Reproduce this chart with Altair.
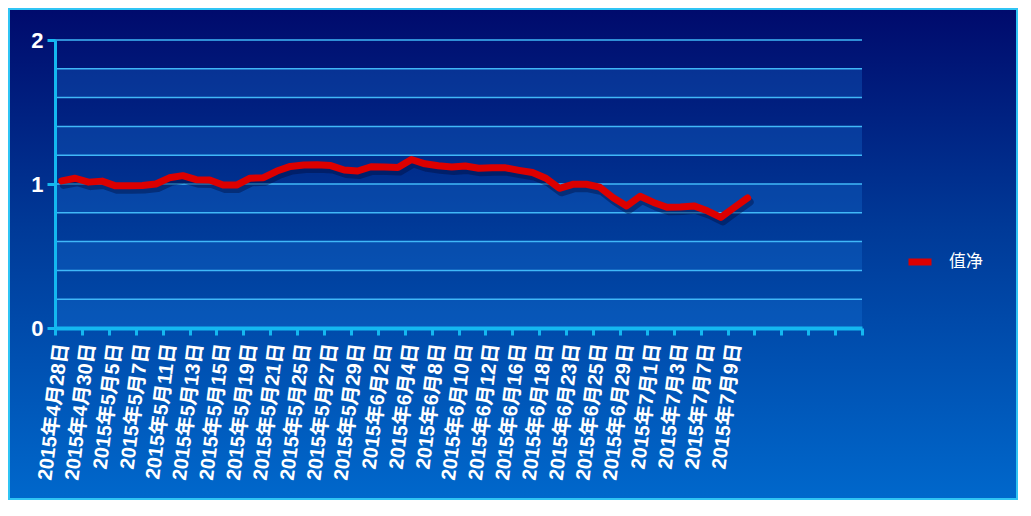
import json
import pandas as pd
import altair as alt

# ---- data ----
dates = ["2015年4月28日", "2015年4月29日", "2015年4月30日", "2015年5月4日", "2015年5月5日",
         "2015年5月6日", "2015年5月7日", "2015年5月8日", "2015年5月11日", "2015年5月12日",
         "2015年5月13日", "2015年5月14日", "2015年5月15日", "2015年5月18日", "2015年5月19日",
         "2015年5月20日", "2015年5月21日", "2015年5月22日", "2015年5月25日", "2015年5月26日",
         "2015年5月27日", "2015年5月28日", "2015年5月29日", "2015年6月1日", "2015年6月2日",
         "2015年6月3日", "2015年6月4日", "2015年6月5日", "2015年6月8日", "2015年6月9日",
         "2015年6月10日", "2015年6月11日", "2015年6月12日", "2015年6月15日", "2015年6月16日",
         "2015年6月17日", "2015年6月18日", "2015年6月19日", "2015年6月23日", "2015年6月24日",
         "2015年6月25日", "2015年6月26日", "2015年6月29日", "2015年6月30日", "2015年7月1日",
         "2015年7月2日", "2015年7月3日", "2015年7月6日", "2015年7月7日", "2015年7月8日",
         "2015年7月9日", "2015年7月10日"]
values = [1.022, 1.040, 1.013, 1.020, 0.987, 0.987, 0.990, 1.000, 1.043, 1.058,
          1.030, 1.028, 0.993, 0.993, 1.040, 1.044, 1.090, 1.122, 1.132, 1.133,
          1.128, 1.097, 1.090, 1.120, 1.118, 1.115, 1.170, 1.140, 1.127, 1.118,
          1.125, 1.109, 1.112, 1.112, 1.095, 1.080, 1.040, 0.970, 0.998, 0.998,
          0.978, 0.905, 0.847, 0.915, 0.872, 0.838, 0.840, 0.848, 0.814, 0.768,
          0.837, 0.903]
series_name = "值净"
n_slots = 60                       # category slots on the axis (last ones empty)
y_ticks = [0, 1, 2]
grid_values = [0.2, 0.4, 0.6, 0.8, 1.0, 1.2, 1.4, 1.6, 1.8, 2.0]
band_lo = [0.0, 0.4, 0.8, 1.2, 1.6]
band_hi = [0.2, 0.6, 1.0, 1.4, 1.8]

df = pd.DataFrame({"idx": list(range(len(values))), "date": dates,
                   "value": values, "series": series_name})
grid_df = pd.DataFrame({"g": grid_values})
band_df = pd.DataFrame({"lo": band_lo, "hi": band_hi})
bg_df = pd.DataFrame({"k": [0]})

W, H = 807, 288
PAD_L, PAD_T = 47, 32
TOT_W, TOT_H = 1010, 492

CYAN = "#14b8f0"
label_js = json.dumps(dates, ensure_ascii=False)
tick_vals = [-0.5 + 2 * k for k in range(n_slots // 2 + 1)]

x_scale = alt.Scale(domain=[-0.5, n_slots - 0.5], nice=False, zero=False)
y_scale = alt.Scale(domain=[0, 2], nice=False, zero=False)

x_axis = alt.Axis(values=tick_vals, title=None, grid=False,
                  labelExpr=f"{label_js}[round(datum.value + 0.5)] || ''",
                  labelOffset=6.7, labelAngle=277, labelAlign="right",
                  labelBaseline="middle", labelPadding=8, labelFlush=False,
                  labelOverlap=False, labelColor="white", labelFontSize=20,
                  labelFontWeight="bold",
                  labelFont="Liberation Sans, Noto Sans CJK SC",
                  tickSize=7, tickWidth=3, tickColor=CYAN,
                  domainColor=CYAN, domainWidth=4, zindex=2)
y_axis = alt.Axis(tickCount=len(y_ticks), format="d", title=None, grid=False,
                  labelOverlap=False, labelFlush=False,
                  labelColor="white", labelFontSize=22, labelFontWeight="bold",
                  labelFont="Liberation Sans", labelPadding=4,
                  tickSize=8, tickWidth=3, tickColor=CYAN,
                  domainColor=CYAN, domainWidth=3, zindex=2)

bg_grad = alt.Gradient(gradient="linear", x1=0, x2=0, y1=0, y2=1,
                       stops=[alt.GradientStop(color="#000a6c", offset=0),
                              alt.GradientStop(color="#003a98", offset=0.45),
                              alt.GradientStop(color="#0068cc", offset=1)])

background = alt.Chart(bg_df).mark_rect(fill=bg_grad, stroke="#30c4f4",
                                         strokeWidth=4).encode(
    x=alt.value(-PAD_L), x2=alt.value(TOT_W - PAD_L),
    y=alt.value(-PAD_T), y2=alt.value(TOT_H - PAD_T))

bands = alt.Chart(band_df).mark_rect(fill="#1a7ae0", opacity=0.28).encode(
    x=alt.value(0), x2=alt.value(W),
    y=alt.Y("lo:Q", scale=y_scale, axis=y_axis), y2="hi:Q")

grid = alt.Chart(grid_df).mark_rule(color="#40b8f8", strokeWidth=1.5).encode(
    x=alt.value(0), x2=alt.value(W),
    y=alt.Y("g:Q", scale=y_scale, axis=y_axis))

shadow = alt.Chart(df).mark_line(color="#000a38", opacity=0.4, strokeWidth=8,
                                 xOffset=2, yOffset=4, strokeCap="round",
                                 strokeJoin="round").encode(
    x=alt.X("idx:Q", scale=x_scale, axis=x_axis),
    y=alt.Y("value:Q", scale=y_scale, axis=y_axis))

line = alt.Chart(df).mark_line(strokeWidth=7, strokeCap="round",
                               strokeJoin="round").encode(
    x=alt.X("idx:Q", scale=x_scale, axis=x_axis),
    y=alt.Y("value:Q", scale=y_scale, axis=y_axis),
    color=alt.Color("series:N",
                    scale=alt.Scale(domain=[series_name], range=["#dc0000"]),
                    legend=alt.Legend(title=None, orient="none", legendX=850,
                                      legendY=207, padding=0,
                                      symbolType="stroke", symbolStrokeWidth=7,
                                      symbolSize=529, labelOffset=14,
                                      labelColor="white", labelFontSize=17,
                                      labelFont="Noto Sans CJK SC", zindex=2)))

chart = alt.layer(background, bands, grid, shadow, line).properties(
    width=W, height=H,
    autosize=alt.AutoSizeParams(type="none"),
    padding={"left": PAD_L, "top": PAD_T,
             "right": TOT_W - PAD_L - W, "bottom": TOT_H - PAD_T - H},
    background="#000a6c",
).configure_view(stroke=None)

chart.save("out.html", embed_options={"renderer": "svg", "actions": False})
